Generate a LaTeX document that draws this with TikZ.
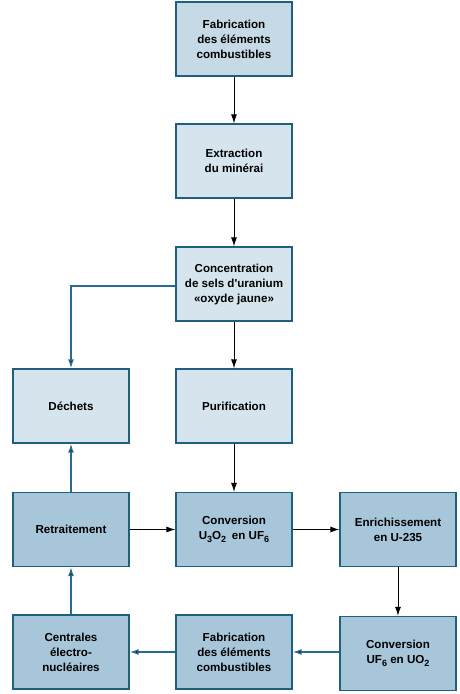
\documentclass[tikz,border=0pt]{standalone}
\usepackage{fontspec}
\setmainfont{Liberation Sans}
\usetikzlibrary{arrows.meta}
\definecolor{bordc}{HTML}{1F5F80}
\definecolor{lightc}{HTML}{D5E4ED}
\definecolor{topc}{HTML}{C6DAE6}
\definecolor{darkc}{HTML}{A7C6D9}
\definecolor{linec}{HTML}{2A6A8C}
\newcommand{\subx}[1]{\raisebox{-2.5pt}{\fontsize{9}{9}\selectfont #1}}
\begin{document}
\begin{tikzpicture}[x=1pt,y=-1pt,
  box/.style={draw=bordc,line width=1.3pt,minimum width=116pt,minimum height=74pt,
    inner sep=2pt,align=center,font=\fontsize{11.6}{15}\selectfont\bfseries},
  lightbox/.style={box,fill=lightc},
  topbox/.style={box,fill=topc},
  darkbox/.style={box,fill=darkc},
  arr/.style={draw=black,line width=0.9pt,-{Latex[length=9pt,width=6pt]}},
  barr/.style={draw=linec,line width=1.4pt,-{Latex[length=9pt,width=6pt,fill=black]}}]
\useasboundingbox (0,0) rectangle (460,694);
\node[topbox] (fab1) at (234,39) {Fabrication\\des éléments\\combustibles};
\node[lightbox] (ext) at (234,161) {Extraction\\du minérai};
\node[lightbox] (conc) at (234,284) {Concentration\\de sels d\textquotesingle uranium\\«oxyde jaune»};
\node[lightbox] (dech) at (71,406) {Déchets};
\node[lightbox] (pur) at (234,406) {Purification};
\node[darkbox] (retr) at (71,529.5) {Retraitement};
\node[darkbox] (conv1) at (234,529.5) {Conversion\\U\subx{3}O\subx{2}\enspace en UF\subx{6}};
\node[darkbox] (enr) at (398,529.5) {Enrichissement\\en U-235};
\node[darkbox] (cent) at (71,652) {Centrales\\électro-\\nucléaires};
\node[darkbox] (fab2) at (234,652) {Fabrication\\des éléments\\combustibles};
\node[darkbox] (conv2) at (398,653.5) {Conversion\\UF\subx{6} en UO\subx{2}};
\draw[arr] (fab1) -- (ext);
\draw[arr] (ext) -- (conc);
\draw[arr] (conc) -- (pur);
\draw[barr] ([yshift=-2pt]conc.west) -| (dech.north);
\draw[arr] (pur) -- (conv1);
\draw[barr] (retr) -- (dech);
\draw[arr] (retr) -- (conv1);
\draw[arr] (conv1) -- (enr);
\draw[arr] (enr) -- (conv2.north);
\draw[barr] (conv2.west |- fab2) -- (fab2);
\draw[barr] (fab2) -- (cent);
\draw[barr] (cent) -- (retr);
\end{tikzpicture}
\end{document}
